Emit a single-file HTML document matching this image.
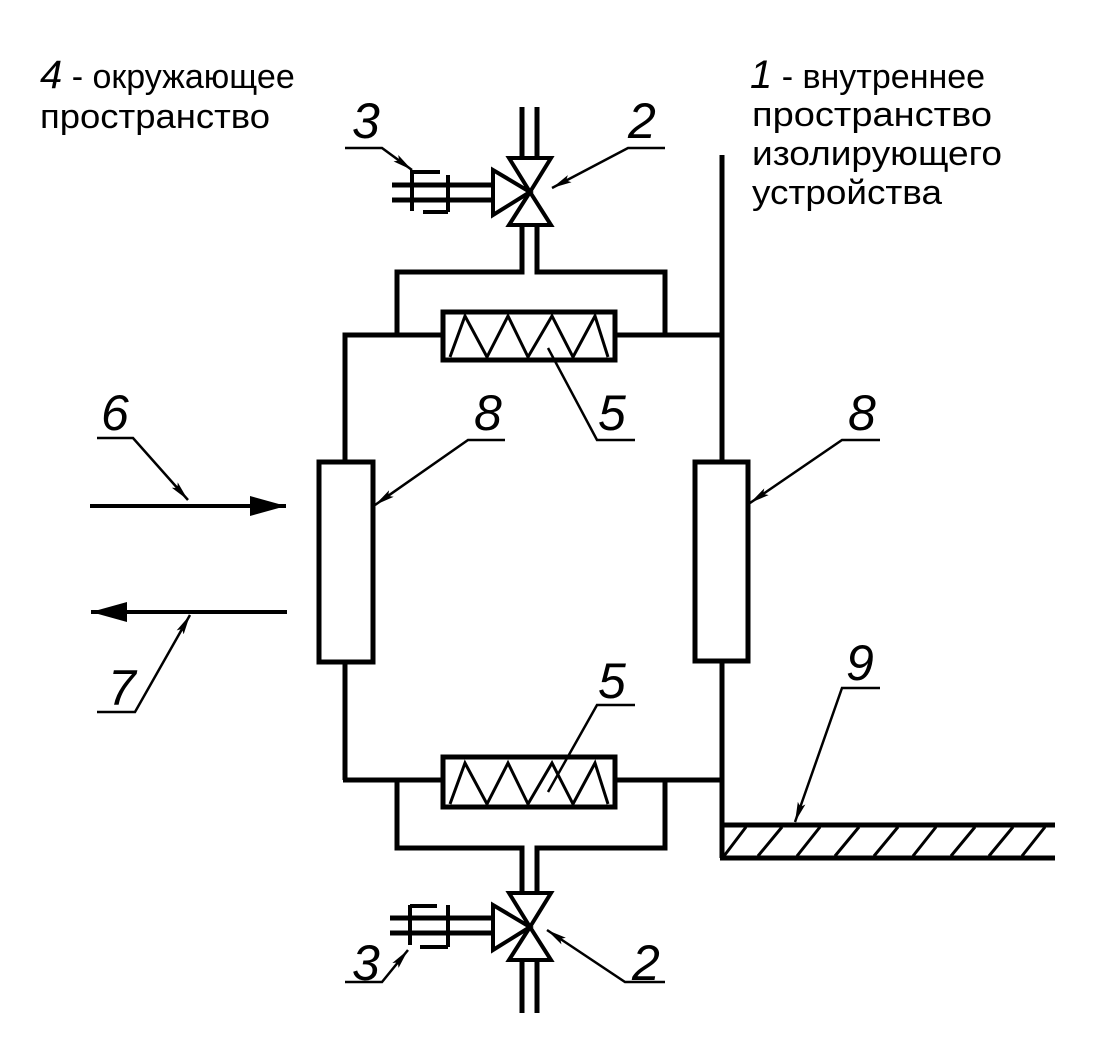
<!DOCTYPE html>
<html><head><meta charset="utf-8"><style>html,body{margin:0;padding:0;background:#fff}svg{display:block}</style></head>
<body>
<svg width="1097" height="1040" viewBox="0 0 1097 1040" xmlns="http://www.w3.org/2000/svg">
<defs>
<marker id="a" viewBox="0 0 20 8" refX="20" refY="4" markerWidth="20" markerHeight="8" markerUnits="userSpaceOnUse" orient="auto"><path d="M0,0 L20,4 L0,8 L4,4 Z" fill="#000"/></marker>
<marker id="f" viewBox="0 0 36 20" refX="36" refY="10" markerWidth="36" markerHeight="20" markerUnits="userSpaceOnUse" orient="auto"><path d="M0,0 L36,10 L0,20 Z" fill="#000"/></marker>
</defs>
<g font-family="Liberation Sans, DejaVu Sans, sans-serif" fill="#000">
<text x="40" y="88" font-size="34"><tspan font-style="italic" font-size="40">4</tspan> - окружающее</text>
<text x="40" y="128" font-size="34" textLength="230" lengthAdjust="spacingAndGlyphs">пространство</text>
<text x="750" y="88" font-size="34"><tspan font-style="italic" font-size="40">1</tspan> - внутреннее</text>
<text x="752" y="126" font-size="34" textLength="240" lengthAdjust="spacingAndGlyphs">пространство</text>
<text x="752" y="165" font-size="34" textLength="250" lengthAdjust="spacingAndGlyphs">изолирующего</text>
<text x="752" y="204" font-size="34" textLength="190" lengthAdjust="spacingAndGlyphs">устройства</text>
<g font-size="50" font-style="italic">
<text x="352" y="138">3</text>
<text x="628" y="138">2</text>
<text x="474" y="430">8</text>
<text x="598" y="430">5</text>
<text x="848" y="430">8</text>
<text x="101" y="430">6</text>
<text x="598" y="698">5</text>
<text x="846" y="680">9</text>
<text x="108" y="705">7</text>
<text x="352" y="980">3</text>
<text x="632" y="980">2</text>
</g>
</g>
<g stroke="#000" fill="none" stroke-width="5" stroke-linecap="butt">
<line x1="522" y1="107" x2="522" y2="160"/><line x1="537" y1="107" x2="537" y2="160"/>
<polyline points="397,335 397,272 522,272 522,225"/>
<polyline points="665,335 665,272 537,272 537,225"/>
<path d="M509,158 L551,158 L530,192 Z M509,225 L551,225 L530,192 Z M493,170 L493,215 L530,192 Z" stroke-width="4"/>
<line x1="392" y1="185" x2="493" y2="185"/><line x1="392" y1="200" x2="493" y2="200"/>
<polyline points="440,172 412,172" stroke-width="4"/><line x1="412" y1="170" x2="412" y2="211" stroke-width="4"/>
<line x1="448" y1="175" x2="448" y2="212" stroke-width="4"/><line x1="423" y1="212" x2="448" y2="212" stroke-width="4"/>
<polyline points="443,335 345,335 345,460"/>
<line x1="615" y1="335" x2="722" y2="335"/>
<line x1="722" y1="155" x2="722" y2="460"/>
<line x1="345" y1="662" x2="345" y2="780"/><line x1="343" y1="780" x2="443" y2="780"/>
<line x1="615" y1="780" x2="722" y2="780"/>
<line x1="722" y1="661" x2="722" y2="858"/>
<rect x="443" y="312" width="172" height="48"/>
<polyline points="450,357 465,316 487,357 508,316 528,357 552,316 573,357 595,316 608,357" stroke-width="3"/>
<rect x="443" y="757" width="172" height="50"/>
<polyline points="450,804 465,763 487,804 508,763 528,804 552,763 573,804 595,763 608,804" stroke-width="3"/>
<rect x="319" y="462" width="54" height="200"/>
<rect x="695" y="462" width="53" height="199"/>
<polyline points="397,780 397,848 522,848 522,893"/>
<polyline points="665,780 665,848 537,848 537,893"/>
<line x1="522" y1="960" x2="522" y2="1013"/><line x1="537" y1="960" x2="537" y2="1013"/>
<path d="M509,893 L551,893 L530,927 Z M509,960 L551,960 L530,927 Z M493,905 L493,950 L530,927 Z" stroke-width="4"/>
<line x1="390" y1="918" x2="493" y2="918"/><line x1="390" y1="933" x2="493" y2="933"/>
<line x1="410" y1="905" x2="410" y2="945" stroke-width="4"/><line x1="410" y1="906" x2="437" y2="906" stroke-width="4"/>
<line x1="448" y1="905" x2="448" y2="947" stroke-width="4"/><line x1="420" y1="947" x2="448" y2="947" stroke-width="4"/>
<line x1="720" y1="825" x2="1055" y2="825"/><line x1="720" y1="858" x2="1055" y2="858"/>
<path d="M724,856 L746,827 M758,856 L782,827 M797,856 L820,827 M835,856 L859,827 M874,856 L898,827 M913,856 L936,827 M951,856 L975,827 M989,856 L1013,827 M1022,856 L1045,827" stroke-width="3"/>
<line x1="90" y1="506" x2="286" y2="506" marker-end="url(#f)" stroke-width="4"/>
<line x1="287" y1="612" x2="91" y2="612" marker-end="url(#f)" stroke-width="4"/>
</g>
<g stroke="#000" fill="none" stroke-width="2.5">
<polyline points="345,148 382,148 412,170" marker-end="url(#a)"/>
<polyline points="665,148 628,148 552,188" marker-end="url(#a)"/>
<polyline points="505,440 468,440 375,505" marker-end="url(#a)"/>
<polyline points="635,440 597,440 548,348"/>
<polyline points="880,440 842,440 750,503" marker-end="url(#a)"/>
<polyline points="97,438 133,438 188,500" marker-end="url(#a)"/>
<polyline points="97,712 135,712 190,615" marker-end="url(#a)"/>
<polyline points="635,705 597,705 548,792"/>
<polyline points="880,688 842,688 795,822" marker-end="url(#a)"/>
<polyline points="345,982 382,982 408,950" marker-end="url(#a)"/>
<polyline points="665,982 625,982 547,930" marker-end="url(#a)"/>
</g>
</svg>
</body></html>
